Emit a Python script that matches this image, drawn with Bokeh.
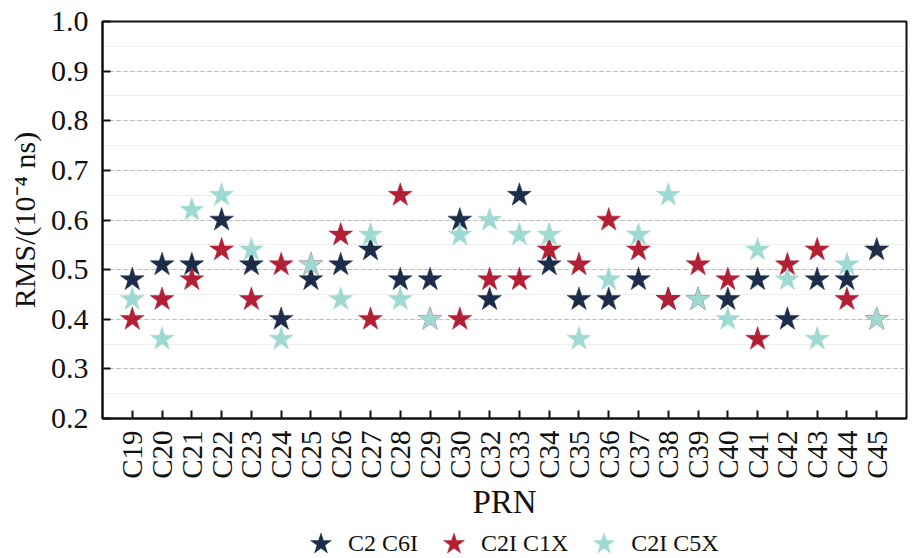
from bokeh.plotting import figure
from bokeh.layouts import column
from bokeh.models import ColumnDataSource, Legend, LegendItem, FixedTicker, SingleIntervalTicker, Range1d
from bokeh.embed import file_html
from bokeh.resources import INLINE
import math

prn = ["C19","C20","C21","C22","C23","C24","C25","C26","C27","C28","C29","C30","C32",
       "C33","C34","C35","C36","C37","C38","C39","C40","C41","C42","C43","C44","C45"]
c2_c6i = [0.48,0.51,0.51,0.60,0.51,0.40,0.48,0.51,0.54,0.48,0.48,0.60,0.44,
          0.65,0.51,0.44,0.44,0.48,0.44,0.44,0.44,0.48,0.40,0.48,0.48,0.54]
c2i_c1x = [0.40,0.44,0.48,0.54,0.44,0.51,0.51,0.57,0.40,0.65,0.40,0.40,0.48,
           0.48,0.54,0.51,0.60,0.54,0.44,0.51,0.48,0.36,0.51,0.54,0.44,0.40]
c2i_c5x = [0.44,0.36,0.62,0.65,0.54,0.36,0.51,0.44,0.57,0.44,0.40,0.57,0.60,
           0.57,0.57,0.36,0.48,0.57,0.65,0.44,0.40,0.54,0.48,0.36,0.51,0.40]
series_names = ["C2 C6I", "C2I C1X", "C2I C5X"]
colors = ["#1c2d4a", "#b31f34", "#9edad2"]

FONT = "'Liberation Serif', 'Times New Roman', serif"
idx = list(range(len(prn)))
src = ColumnDataSource(dict(x=idx, a=c2_c6i, b=c2i_c1x, c=c2i_c5x))

W = 910
p = figure(width=W, height=522, output_backend="svg", toolbar_location=None,
           x_range=Range1d(-1, len(prn)), y_range=Range1d(0.2, 1.0),
           min_border_left=102, min_border_top=21, min_border_right=4, min_border_bottom=104)

for col, c in zip(["a", "b", "c"], colors):
    p.scatter("x", col, source=src, marker="star", size=25, fill_color=c,
              line_color=c, line_width=0.5)

p.outline_line_color = "#111111"
p.outline_line_width = 2
p.xgrid.grid_line_color = None
p.ygrid.grid_line_color = "#bbbbbb"
p.ygrid.grid_line_dash = "4 3"
p.ygrid.grid_line_width = 1
p.ygrid.minor_grid_line_color = "#dddddd"
p.ygrid.minor_grid_line_dash = "1 1"

p.xaxis.ticker = FixedTicker(ticks=idx)
p.xaxis.major_label_overrides = {i: s for i, s in enumerate(prn)}
p.xaxis.major_label_orientation = math.pi / 2
p.yaxis.ticker = SingleIntervalTicker(interval=0.1, num_minor_ticks=2)
p.yaxis.major_label_overrides = {round(0.2 + 0.1 * i, 1): f"{0.2 + 0.1 * i:.1f}" for i in range(9)}
p.ygrid.ticker = SingleIntervalTicker(interval=0.1, num_minor_ticks=2)

for ax in [p.xaxis, p.yaxis]:
    ax.axis_line_width = 2
    ax.axis_line_color = "#111111"
    ax.major_tick_in = 8
    ax.major_tick_out = 0
    ax.major_tick_line_width = 2
    ax.major_tick_line_color = "#111111"
    ax.minor_tick_line_color = None
    ax.major_label_text_font = FONT
    ax.major_label_text_color = "#111111"
    ax.axis_label_text_font = FONT
    ax.axis_label_text_font_style = "normal"
    ax.axis_label_text_color = "#111111"

p.xaxis.major_label_text_font_size = "29px"
p.xaxis.major_label_standoff = 12
p.yaxis.major_label_text_font_size = "30px"
p.yaxis.major_label_standoff = 10

p.xaxis.axis_label = "PRN"
p.xaxis.axis_label_text_font_size = "33px"
p.xaxis.axis_label_standoff = 2
p.yaxis.axis_label = "RMS/(10⁻⁴ ns)"
p.yaxis.axis_label_text_font_size = "30px"
p.yaxis.axis_label_standoff = 7

# legend strip below the chart (series drawn out of view; only the legend shows)
p2 = figure(width=W, height=36, output_backend="svg", toolbar_location=None,
            x_axis_type=None, y_axis_type=None, x_range=Range1d(-1, len(prn)), y_range=Range1d(5, 6),
            min_border_left=0, min_border_right=0, min_border_top=0, min_border_bottom=0)
p2.outline_line_color = None
p2.grid.grid_line_color = None
lrs = [p2.scatter("x", col, source=src, marker="star", size=25, fill_color=c,
                  line_color=c, line_width=0.5) for col, c in zip(["a", "b", "c"], colors)]
legend = Legend(items=[LegendItem(label=n, renderers=[r]) for n, r in zip(series_names, lrs)],
                orientation="horizontal", location=(191, -13),
                label_text_font=FONT, label_text_font_size="24px", label_text_color="#111111",
                label_text_baseline="middle",
                border_line_color=None, background_fill_alpha=0,
                spacing=8, label_standoff=0, glyph_width=55, glyph_height=55,
                margin=0, padding=0)
p2.add_layout(legend, "center")

layout = column(p, p2, spacing=0)
open("out.html", "w").write(file_html(layout, INLINE))
